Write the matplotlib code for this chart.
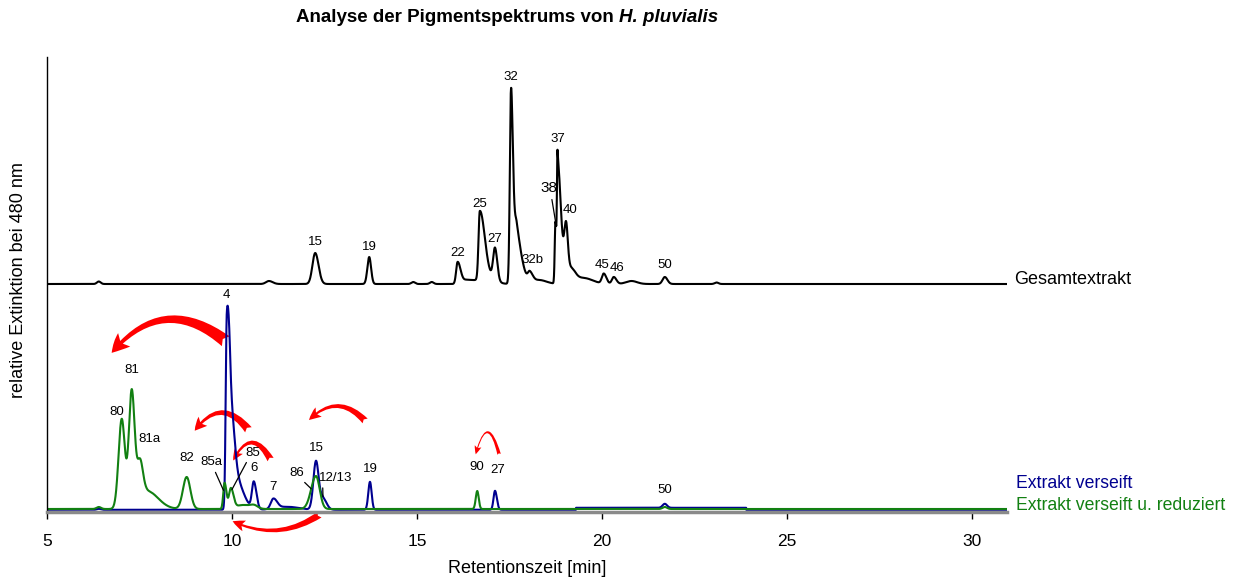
import numpy as np
import matplotlib
matplotlib.use("Agg")
import matplotlib.pyplot as plt
from matplotlib.patches import FancyArrowPatch

plt.rcParams['font.family'] = ['Liberation Sans', 'DejaVu Sans']

# Peak tables: retention time [min], height, left sigma, right sigma
total_rt = [6.40, 11.00, 12.25, 13.71, 14.90, 15.40, 16.10, 16.35, 16.70, 16.90,
            17.11, 17.54, 17.56, 17.70, 18.05, 18.30, 18.745, 18.80, 19.03, 19.15,
            19.50, 20.05, 20.32, 20.80, 21.70, 23.10]
total_h = [2.5, 3, 31, 27, 2, 2, 22, 4, 68, 7,
           32, 150, 50, 35, 9, 4, 62, 122, 52, 14,
           6, 10, 7, 3, 7, 1.5]
total_sl = [0.05, 0.08, 0.075, 0.05, 0.05, 0.05, 0.04, 0.10, 0.035, 0.20,
            0.05, 0.03, 0.04, 0.05, 0.05, 0.20, 0.02, 0.015, 0.05, 0.08,
            0.25, 0.05, 0.05, 0.15, 0.06, 0.05]
total_sr = [0.05, 0.10, 0.09, 0.05, 0.05, 0.05, 0.08, 0.20, 0.13, 0.20,
            0.06, 0.05, 0.12, 0.15, 0.08, 0.20, 0.03, 0.092, 0.048, 0.12,
            0.25, 0.07, 0.07, 0.15, 0.07, 0.05]

sap_rt = [6.40, 9.86, 9.95, 10.10, 10.59, 11.12, 11.50, 12.27, 12.45, 13.73, 17.11, 21.70]
sap_h = [1, 178, 88, 30, 27, 10, 3, 48, 12, 28, 19, 4]
sap_sl = [0.05, 0.03, 0.05, 0.10, 0.05, 0.07, 0.30, 0.07, 0.08, 0.045, 0.04, 0.06]
sap_sr = [0.05, 0.06, 0.10, 0.20, 0.07, 0.10, 0.30, 0.07, 0.10, 0.045, 0.05, 0.06]

red_rt = [6.40, 7.02, 7.29, 7.51, 7.70, 8.775, 9.80, 9.97, 10.30, 10.60, 12.27, 16.63, 21.70]
red_h = [2, 90, 118, 40, 18, 32, 26, 20, 4, 3, 33, 18, 2]
red_sl = [0.06, 0.085, 0.077, 0.08, 0.15, 0.10, 0.035, 0.05, 0.20, 0.10, 0.13, 0.04, 0.06]
red_sr = [0.06, 0.085, 0.08, 0.08, 0.30, 0.10, 0.05, 0.07, 0.20, 0.10, 0.10, 0.04, 0.06]

# Peak labels: name, retention time, horizontal / vertical shift [px]
total_labels = ["15", "19", "22", "25", "27", "32", "32b", "37", "40", "45", "46", "50"]
total_label_rt = [12.25, 13.71, 16.10, 16.70, 17.11, 17.55, 18.05, 18.80, 19.03, 20.05, 20.32, 21.70]
total_label_dx = [0, 0, 0, 0, 0, 0, 3, 0, 4, -2, 3, 0]
total_label_dy = [10, 9, 8, 6, 7, 10, 10, 10, 10, 7, 8, 11]

sap_labels = ["4", "6", "7", "15", "19", "27", "50"]
sap_label_rt = [9.86, 10.59, 11.12, 12.27, 13.73, 17.11, 21.70]
sap_label_dx = [0, 0, 0, 0, 0, 3, 0]
sap_label_dy = [10, 12, 10, 12, 12, 20, 13]

red_labels = ["80", "81", "81a", "82", "90"]
red_label_rt = [7.02, 7.29, 7.51, 8.775, 16.63]
red_label_dx = [-5, 0, 10, 0, 0]
red_label_dy = [6, 18, 18, 18, 23]

TOTAL_OFFSET = 228.0
BASE = 3.0

BLACK = "#000000"
BLUE = "#000090"
GREEN = "#128012"
RED = "#ff0000"
PX = 0.72  # points per pixel at 100 dpi


def trace(rt, h, sl, sr, t):
    y = np.zeros_like(t)
    for c, a, s1, s2 in zip(rt, h, sl, sr):
        s = np.where(t < c, s1, s2)
        y += a * np.exp(-0.5 * ((t - c) / s) ** 2)
    return y


t = np.linspace(5.0, 30.95, 6000)
y_total = TOTAL_OFFSET + trace(total_rt, total_h, total_sl, total_sr, t)
y_sap = BASE - 0.8 + trace(sap_rt, sap_h, sap_sl, sap_sr, t)
y_sap = y_sap + np.where((t > 19.3) & (t < 23.9), 2.0, 0.0)
y_red = BASE + trace(red_rt, red_h, red_sl, red_sr, t)

fig = plt.figure(figsize=(12.36, 5.81), dpi=100)
ax = fig.add_axes([47 / 1236, 69 / 581, 960 / 1236, 455 / 581])

ax.plot(t, y_total, color=BLACK, lw=1.5, solid_joinstyle='round')
ax.plot(t, y_sap, color=BLUE, lw=1.5, solid_joinstyle='round')
ax.plot(t, y_red, color=GREEN, lw=1.5, solid_joinstyle='round')

ax.set_xlim(5, 30.95)
ax.set_ylim(0, 455)
ax.set_xticks([5, 10, 15, 20, 25, 30])
ax.tick_params(axis='x', direction='out', length=5, width=1, labelsize=12.5, pad=11)
ax.set_yticks([])
for s in ("top", "right"):
    ax.spines[s].set_visible(False)
ax.spines['bottom'].set_color('#8a8a8a')
ax.spines['bottom'].set_linewidth(2.5)
ax.spines['left'].set_linewidth(1.0)

ax.set_xlabel("Retentionszeit [min]", fontsize=13, labelpad=8)
fig.text(19 / 1236, 1 - 280 / 581, "relative Extinktion bei 480 nm", rotation=90,
         ha='center', va='center', fontsize=13)

# Title: upright part followed by the italic species name
renderer = fig.canvas.get_renderer()
t1 = fig.text(0, 1 - 17 / 581, "Analyse der Pigmentspektrums von ", fontsize=13.5,
              fontweight='bold', ha='left', va='center')
t2 = fig.text(0, 1 - 17 / 581, "H. pluvialis", fontsize=13.5, fontweight='bold',
              fontstyle='italic', ha='left', va='center')
w1 = t1.get_window_extent(renderer).width
w2 = t2.get_window_extent(renderer).width
x0 = 507 - (w1 + w2) / 2
t1.set_x(x0 / 1236)
t2.set_x((x0 + w1) / 1236)

LABEL_FS = 9.5


def label_peaks(names, rts, dxs, dys, yarr):
    for name, rt, dx, dy in zip(names, rts, dxs, dys):
        i = np.argmin(np.abs(t - rt))
        top = yarr[max(i - 10, 0):i + 11].max()
        ax.annotate(name, (rt, top), xytext=(dx * PX, (dy + 1) * PX), textcoords='offset points',
                    ha='center', va='center', fontsize=LABEL_FS)


label_peaks(total_labels, total_label_rt, total_label_dx, total_label_dy, y_total)
label_peaks(sap_labels, sap_label_rt, sap_label_dx, sap_label_dy, y_sap)
label_peaks(red_labels, red_label_rt, red_label_dx, red_label_dy, y_red)


def leader(name, rt, yarr, dx, dy, relx, fs=LABEL_FS):
    i = np.argmin(np.abs(t - rt))
    ax.annotate(name, (rt, yarr[i]), xytext=(dx * PX, dy * PX), textcoords='offset points',
                ha='center', va='center', fontsize=fs,
                arrowprops=dict(arrowstyle='-', color='black', lw=0.9, shrinkA=1, shrinkB=0,
                                relpos=(relx, 0)))


leader("38", 18.75, y_total, -7, 34, 0.65, fs=11)
leader("85a", 9.77, y_red, -12, 28, 0.6)
leader("85", 10.00, y_red, 21, 37, 0.2)
leader("86", 12.14, y_red, -14, 16, 0.75)
leader("12/13", 12.46, y_sap, 13, 19, 0.1)

# Trace names at the right end of each baseline
ax.text(1.007, 233 / 455, "Gesamtextrakt", transform=ax.transAxes, fontsize=13,
        color=BLACK, ha='left', va='center')
ax.text(1.009, 29 / 455, "Extrakt verseift", transform=ax.transAxes, fontsize=12.7,
        color=BLUE, ha='left', va='center')
ax.text(1.009, 7 / 455, "Extrakt verseift u. reduziert", transform=ax.transAxes,
        fontsize=12.7, color=GREEN, ha='left', va='center')

# Curved red arrows marking the peak shifts after reduction
arrows = [
    # tail, head, curvature, head length, head half width, tail width  (points)
    ((9.89, 169), (6.70, 157), 0.5, 13, 13, 9),
    ((10.49, 80), (8.95, 79), 0.7, 9, 9, 6),
    ((11.08, 50), (10.00, 49), 1.0, 8, 7, 5),
    ((13.65, 89), (12.03, 90), 0.55, 9, 8, 5),
    ((12.43, -1), (9.95, -8), -0.3, 9, 8, 5),
    ((17.24, 55), (16.57, 55), 2.0, 6, 5, 2.5),
]
for tail, head, rad, hl, hw, tw in arrows:
    arr = FancyArrowPatch(tail, head, connectionstyle=f"arc3,rad={rad}",
                          arrowstyle=f"fancy,head_length={hl},head_width={hw},tail_width={tw}",
                          color=RED, lw=0, mutation_scale=1, clip_on=False)
    ax.add_patch(arr)

fig.savefig("out.png", dpi=100)
